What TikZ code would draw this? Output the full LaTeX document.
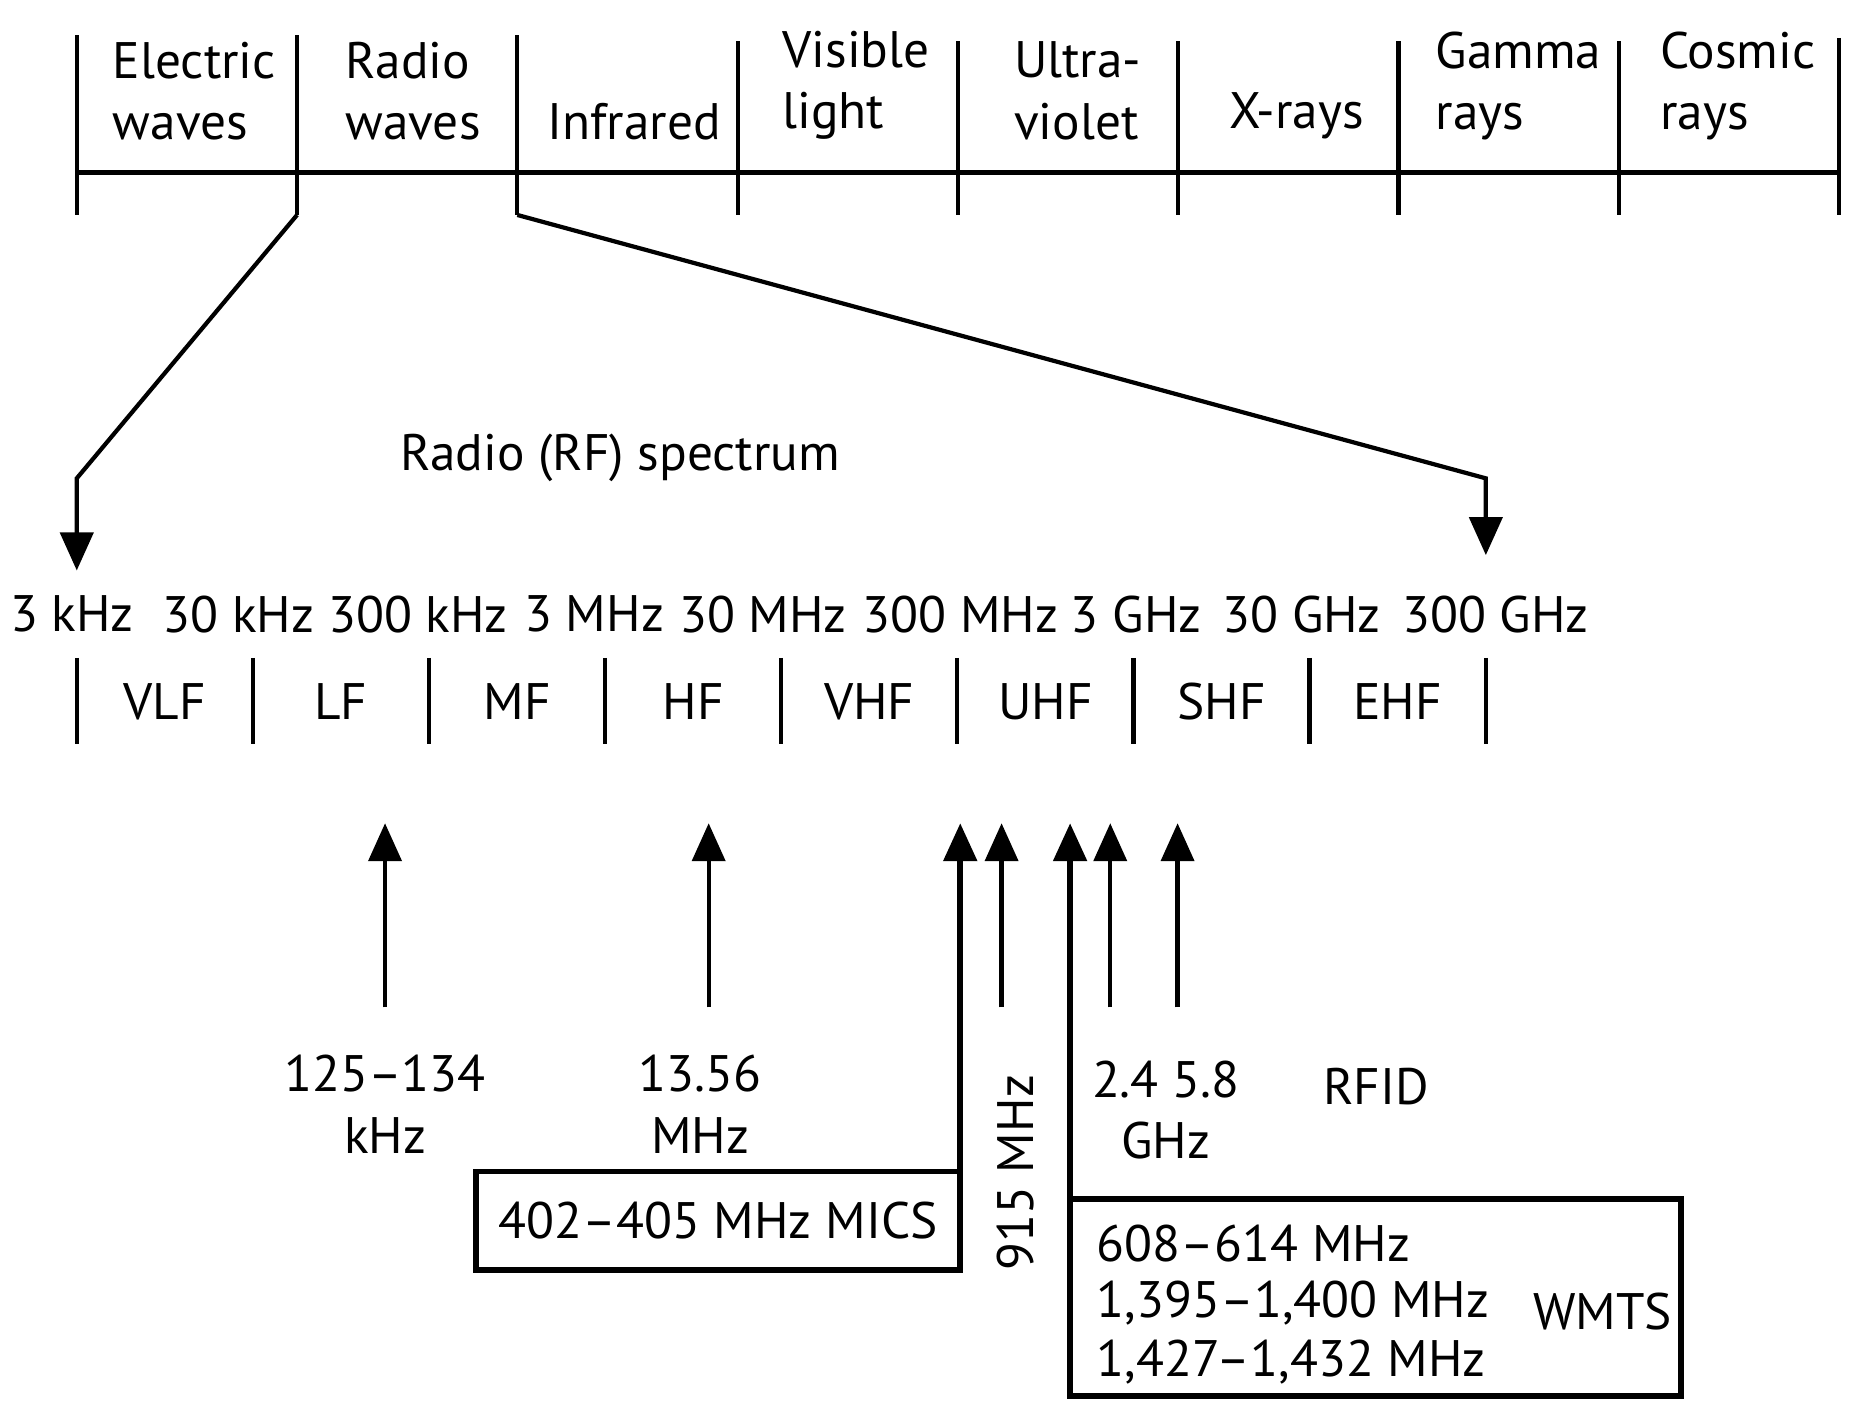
\documentclass[tikz,border=0pt]{standalone}
\usepackage{fontspec}
\setmainfont{PT Sans}
\usetikzlibrary{arrows.meta,positioning,fit}

\begin{document}
\begin{tikzpicture}[x=0.01181cm, y=-0.01181cm,
  txt/.style={font=\fontsize{14.6}{17.5}\selectfont, inner sep=0pt, align=left},
  rule/.style={line width=1.2pt},
  heavy/.style={line width=1.6pt},
  box/.style={draw, line width=1.6pt, inner sep=0pt, outer sep=0pt},
  arrow/.style={-{Triangle[length=3.8mm, width=3.3mm]}, line width=1.2pt}
]
\useasboundingbox (0,0) rectangle (1568,1207);

% electromagnetic spectrum bar
\draw[heavy] (65,146) -- (1557,146);
\foreach \i/\top in {0/30,1/30,2/30,3/35,4/35,5/35,6/35,7/35,8/32}
  \draw[rule] (65+186.5*\i,\top) -- (65+186.5*\i,182) coordinate (d\i);

\node[txt, anchor=west] (elec) at (95,77) {Electric\\waves};
\node[txt, anchor=west] (radio) at (292,77) {Radio\\waves};
\node[txt, anchor=west] (ir) at (463,103) {Infrared};
\node[txt, anchor=west] (vis) at (662,72) {Visible\\light};
\node[txt, anchor=west] (uv) at (858,77) {Ultra-\\violet};
\node[txt, anchor=west] (xray) at (1040,98) {X-rays};
\node[txt, anchor=west] (gamma) at (1215,73) {Gamma\\rays};
\node[txt, anchor=west] (cosmic) at (1405,73) {Cosmic\\rays};

% zoom into the radio part
\coordinate (lo) at (65,483);
\coordinate (hi) at (1258,470);
\draw[arrow] (d1) -- (65,405) -- (lo);
\draw[arrow] (d2) -- (1258,405) -- (hi);
\node[txt] (rf) at (525,388) {Radio (RF) spectrum};

% RF bands
\foreach \x/\f [count=\i from 0] in {61/3 kHz, 202/30 kHz, 354/300 kHz, 503/3 MHz, 646/30 MHz,
    813/300 MHz, 962/3 GHz, 1102/30 GHz, 1266/300 GHz}
  \node[txt] (f\i) at (\x,520) {\f};
\foreach \i in {0,...,8}
  \draw[rule] (65+149.1*\i,557) -- (65+149.1*\i,630);
\foreach \b [count=\i from 0] in {VLF, LF, MF, HF, VHF, UHF, SHF, EHF}
  \node[txt] (b\i) at (139.5+149.1*\i,594) {\b};

% applications
\foreach \x [count=\i] in {326,600,848,940,997} {
  \coordinate (a\i) at (\x,853);
  \coordinate (t\i) at (\x,697);
  \draw[arrow] (a\i) -- (t\i);
}
\node[txt, align=center] (lf) at (326,935) {125–134\\kHz};
\node[txt, align=center] (hf) at (593,935) {13.56\\MHz};
\node[txt, rotate=90] (ism) at (860,993) {915 MHz};
\node[txt, align=center] (ghz) at (987,940) {2.4 5.8\\GHz};
\node[txt] (rfid) at (1165,920) {RFID};

\node[box, fit={(403,992) (813,1075)}] (mics) {};
\node[txt] (micstxt) at (mics.center) {402–405 MHz MICS};
\coordinate (tm) at (813,697);
\draw[arrow, heavy] (mics.north east) -- (tm);

\node[box, fit={(906,1015) (1423,1182)}] (wmts) {};
\coordinate (tw) at (906,697);
\draw[arrow, heavy] (wmts.north west) -- (tw);
\node[txt, anchor=west] (w1) at (928,1053) {608–614 MHz};
\node[txt, anchor=west] (w2) at (928,1103) {1,395–1,400 MHz};
\node[txt, anchor=west] (w3) at (928,1153) {1,427–1,432 MHz};
\node[txt] (wlab) at (1357,1110) {WMTS};
\end{tikzpicture}
\end{document}
